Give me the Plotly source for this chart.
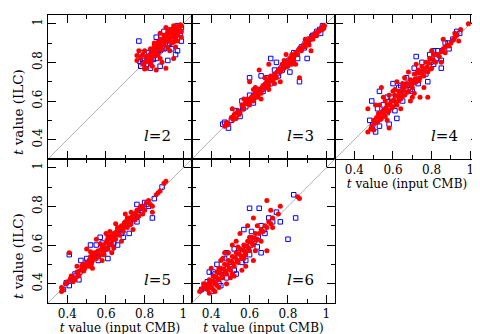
import plotly.graph_objects as go

# axis range shared by every panel
lo, hi = 0.3, 1.045
tick_vals = [0.4, 0.6, 0.8, 1.0]
tick_text = ["0.4", "0.6", "0.8", "1"]
minor_vals = [0.3, 0.5, 0.7, 0.9]

multipoles = [2, 3, 4, 5, 6]

# (t input CMB, t ILC)
l2_red = [(0.99,0.99),(0.98,0.97),(0.97,0.98),(0.96,0.95),(0.95,0.96),(0.94,0.93),(0.93,0.95),(0.92,0.91),
          (0.91,0.93),(0.90,0.89),(0.89,0.91),(0.88,0.87),(0.87,0.89),(0.86,0.85),(0.85,0.87),(0.84,0.83),
          (0.83,0.84),(0.82,0.81),(0.81,0.83),(0.80,0.80),(0.97,0.94),(0.95,0.99),(0.93,0.97),(0.99,0.96),
          (0.96,0.92),(0.92,0.96),(0.90,0.94),(0.94,0.90),(0.88,0.92),(0.87,0.84),(0.85,0.89),(0.83,0.87),
          (0.79,0.84),(0.77,0.86),(0.76,0.81),(0.79,0.79),(0.81,0.77),(0.84,0.78),(0.86,0.76),(0.91,0.77),
          (0.89,0.80),(0.93,0.86),(0.96,0.88),(0.97,0.91),(0.95,0.82),(0.85,0.90),(0.80,0.86),(0.99,0.93),
          (0.91,0.98),(0.88,0.95),
          (0.985,0.995),(0.975,0.985),(0.965,0.965),(0.955,0.975),(0.945,0.945),(0.935,0.955),(0.925,0.925),
          (0.915,0.945),(0.905,0.905),(0.895,0.915),(0.885,0.895),(0.875,0.875),(0.865,0.885),(0.855,0.86),
          (0.845,0.85),(0.835,0.815),(0.96,0.985),(0.95,0.935),(0.94,0.965),(0.93,0.915),(0.98,0.99),
          (0.97,0.955),(0.90,0.925),(0.89,0.865),(0.87,0.905),(0.86,0.835),(0.84,0.865),(0.82,0.835),
          (0.81,0.805),(0.78,0.825),(0.83,0.795),(0.88,0.82),(0.92,0.875),(0.95,0.905),(0.80,0.765),
          (0.76,0.835)]
l2_blue = [(0.77,0.91),(0.78,0.78),(0.92,0.81),(0.97,0.86),(0.80,0.82),(0.83,0.80),(0.86,0.82),(0.88,0.86),
           (0.90,0.87),(0.92,0.89),(0.94,0.92),(0.96,0.94),(0.98,0.96),(0.97,0.99),(0.95,0.97),(0.93,0.93),
           (0.91,0.91),(0.89,0.88),(0.87,0.86),(0.85,0.84),(0.82,0.85),(0.79,0.81),(0.81,0.79),(0.84,0.86),
           (0.94,0.87),(0.99,0.91),(0.96,0.84),(0.88,0.78),(0.83,0.77),(0.90,0.96),(0.86,0.93),(0.78,0.85),
           (0.99,0.98),(0.93,0.90),
           (0.975,0.975),(0.955,0.955),(0.935,0.945),(0.915,0.925),(0.895,0.905),(0.875,0.885),(0.855,0.875),
           (0.835,0.855),(0.865,0.845),(0.905,0.875),(0.945,0.915),(0.985,0.945),(0.815,0.825),(0.795,0.795),
           (0.775,0.805),(0.845,0.815),(0.925,0.965),(0.885,0.935)]

l3_red = [(0.47,0.47),(0.48,0.49),(0.49,0.48),(0.52,0.53),(0.53,0.51),(0.54,0.55),(0.55,0.54),(0.56,0.58),
          (0.57,0.56),(0.58,0.59),(0.59,0.61),(0.60,0.58),(0.61,0.62),(0.62,0.60),(0.63,0.64),(0.64,0.62),
          (0.65,0.66),(0.66,0.64),(0.67,0.68),(0.68,0.67),(0.69,0.70),(0.70,0.68),(0.71,0.73),(0.72,0.71),
          (0.73,0.74),(0.74,0.72),(0.75,0.76),(0.76,0.75),(0.77,0.79),(0.78,0.77),(0.79,0.80),(0.80,0.78),
          (0.81,0.82),(0.82,0.84),(0.83,0.81),(0.84,0.85),(0.85,0.84),(0.86,0.87),(0.87,0.86),(0.88,0.89),
          (0.89,0.88),(0.90,0.91),(0.91,0.89),(0.92,0.93),(0.93,0.92),(0.94,0.95),(0.95,0.94),(0.96,0.96),
          (0.97,0.97),(0.98,0.97),(0.99,0.99),(0.65,0.76),(0.60,0.70),(0.86,0.72),(0.92,0.86),(0.70,0.79),
          (0.73,0.69),(0.79,0.84),(0.76,0.70),(0.62,0.66),(0.57,0.61),(0.51,0.56),(0.66,0.61),(0.84,0.79),
          (0.89,0.92),
          (0.48,0.475),(0.505,0.515),(0.515,0.505),(0.535,0.54),(0.545,0.53),(0.565,0.57),(0.575,0.585),
          (0.595,0.59),(0.605,0.60),(0.615,0.625),(0.625,0.615),(0.635,0.645),(0.645,0.63),(0.655,0.66),
          (0.665,0.67),(0.675,0.665),(0.685,0.69),(0.695,0.69),(0.705,0.72),(0.715,0.705),(0.725,0.73),
          (0.735,0.725),(0.745,0.75),(0.755,0.765),(0.765,0.76),(0.775,0.775),(0.785,0.79),(0.795,0.80),
          (0.805,0.805),(0.815,0.825),(0.825,0.83),(0.835,0.835),(0.845,0.85),(0.855,0.865),(0.865,0.865),
          (0.875,0.88),(0.885,0.885),(0.895,0.90),(0.905,0.905),(0.915,0.92),(0.925,0.925),(0.935,0.94),
          (0.945,0.945),(0.955,0.96),(0.965,0.965),(0.975,0.98),(0.985,0.99),(0.70,0.66),(0.78,0.81),
          (0.82,0.79),(0.68,0.72),(0.63,0.67)]
l3_blue = [(0.46,0.48),(0.49,0.46),(0.53,0.55),(0.55,0.52),(0.58,0.57),(0.60,0.63),(0.62,0.59),(0.64,0.66),
           (0.67,0.65),(0.69,0.72),(0.71,0.69),(0.73,0.76),(0.75,0.73),(0.77,0.76),(0.79,0.78),(0.81,0.80),
           (0.83,0.85),(0.85,0.82),(0.87,0.88),(0.89,0.90),(0.91,0.92),(0.93,0.94),(0.95,0.96),(0.97,0.95),
           (0.98,0.99),(0.71,0.82),(0.60,0.72),(0.86,0.70),(0.90,0.82),(0.66,0.73),(0.74,0.80),(0.56,0.60),
           (0.81,0.75),
           (0.505,0.50),(0.525,0.525),(0.545,0.545),(0.565,0.56),(0.585,0.59),(0.605,0.605),(0.625,0.63),
           (0.645,0.645),(0.665,0.66),(0.685,0.685),(0.705,0.705),(0.725,0.72),(0.745,0.745),(0.765,0.77),
           (0.785,0.785),(0.805,0.81),(0.825,0.82),(0.845,0.845),(0.865,0.87),(0.885,0.875),(0.905,0.91),
           (0.925,0.935),(0.945,0.94),(0.965,0.97),(0.985,0.98),(0.47,0.49)]

l4_red = [(0.47,0.44),(0.49,0.47),(0.50,0.50),(0.52,0.49),(0.53,0.53),(0.54,0.51),(0.55,0.55),(0.56,0.52),
          (0.57,0.58),(0.58,0.55),(0.58,0.46),(0.59,0.60),(0.60,0.57),(0.61,0.63),(0.62,0.58),(0.63,0.65),
          (0.64,0.61),(0.65,0.67),(0.66,0.63),(0.67,0.69),(0.68,0.65),(0.69,0.71),(0.70,0.67),(0.71,0.74),
          (0.72,0.70),(0.73,0.76),(0.74,0.72),(0.75,0.78),(0.76,0.73),(0.77,0.80),(0.78,0.75),(0.79,0.82),
          (0.80,0.77),(0.81,0.84),(0.82,0.80),(0.84,0.83),(0.86,0.87),(0.87,0.85),(0.88,0.89),(0.90,0.90),
          (0.92,0.93),(0.94,0.91),(0.95,0.97),(0.99,1.00),(0.86,0.92),(0.92,0.95),(0.54,0.67),(0.47,0.56),
          (0.74,0.62),(0.78,0.62),(0.55,0.62),(0.62,0.70),(0.68,0.75),(0.64,0.56),(0.51,0.58),(0.57,0.50),
          (0.70,0.62),(0.80,0.86),(0.76,0.67),(0.60,0.65),(0.66,0.72),(0.72,0.79),(0.50,0.45),(0.85,0.80),
          (0.63,0.60),
          (0.485,0.455),(0.505,0.485),(0.515,0.515),(0.525,0.535),(0.535,0.505),(0.545,0.545),(0.555,0.525),
          (0.565,0.565),(0.575,0.545),(0.585,0.585),(0.595,0.565),(0.605,0.605),(0.615,0.595),(0.625,0.625),
          (0.635,0.635),(0.645,0.625),(0.655,0.655),(0.665,0.675),(0.675,0.645),(0.685,0.685),(0.695,0.705),
          (0.705,0.695),(0.715,0.715),(0.725,0.745),(0.735,0.705),(0.745,0.745),(0.755,0.765),(0.765,0.755),
          (0.775,0.775),(0.785,0.795),(0.795,0.765),(0.805,0.815),(0.815,0.805),(0.83,0.84),(0.85,0.855),
          (0.87,0.88),(0.89,0.885),(0.91,0.915),(0.93,0.94),(0.56,0.60),(0.61,0.66),(0.65,0.69),(0.71,0.64),
          (0.69,0.60),(0.53,0.58),(0.58,0.63)]
l4_blue = [(0.51,0.44),(0.48,0.50),(0.53,0.47),(0.55,0.58),(0.57,0.54),(0.59,0.62),(0.61,0.55),(0.63,0.67),
           (0.65,0.60),(0.67,0.72),(0.69,0.66),(0.71,0.77),(0.73,0.69),(0.75,0.80),(0.77,0.74),(0.79,0.84),
           (0.81,0.79),(0.83,0.86),(0.85,0.77),(0.87,0.90),(0.89,0.87),(0.91,0.92),(0.93,0.96),(0.81,0.86),
           (0.53,0.65),(0.49,0.60),(0.60,0.69),(0.66,0.64),(0.85,0.81),(0.72,0.83),(0.58,0.48),(0.78,0.70),
           (0.62,0.51),
           (0.495,0.475),(0.515,0.50),(0.535,0.525),(0.555,0.55),(0.575,0.57),(0.595,0.58),(0.615,0.61),
           (0.635,0.62),(0.655,0.64),(0.675,0.68),(0.695,0.69),(0.715,0.70),(0.735,0.73),(0.755,0.75),
           (0.775,0.76),(0.795,0.80),(0.825,0.82),(0.855,0.86),(0.885,0.90),(0.945,0.95),(0.57,0.62),
           (0.64,0.68),(0.70,0.65),(0.52,0.56)]

l5_red = [(0.37,0.36),(0.37,0.38),(0.40,0.41),(0.42,0.44),(0.43,0.41),(0.44,0.42),(0.45,0.46),(0.46,0.44),
          (0.47,0.47),(0.48,0.50),(0.49,0.48),(0.50,0.51),(0.51,0.49),(0.52,0.54),(0.53,0.52),(0.54,0.56),
          (0.55,0.53),(0.56,0.57),(0.57,0.55),(0.58,0.59),(0.59,0.57),(0.60,0.61),(0.61,0.58),(0.62,0.63),
          (0.63,0.60),(0.64,0.66),(0.65,0.63),(0.66,0.68),(0.67,0.65),(0.68,0.70),(0.69,0.67),(0.70,0.72),
          (0.71,0.69),(0.72,0.74),(0.73,0.71),(0.74,0.76),(0.75,0.73),(0.76,0.78),(0.77,0.75),(0.78,0.80),
          (0.80,0.78),(0.82,0.83),(0.84,0.80),(0.86,0.86),(0.88,0.88),(0.90,0.92),(0.91,0.93),(0.84,0.77),
          (0.79,0.76),(0.41,0.56),(0.50,0.58),(0.55,0.63),(0.60,0.66),(0.65,0.71),(0.70,0.76),(0.58,0.52),
          (0.63,0.56),(0.68,0.62),(0.74,0.68),(0.53,0.48),(0.45,0.49),(0.73,0.77),(0.62,0.67),
          (0.375,0.37),(0.39,0.40),(0.415,0.425),(0.435,0.43),(0.455,0.45),(0.475,0.49),(0.485,0.465),
          (0.505,0.495),(0.515,0.525),(0.525,0.505),(0.535,0.545),(0.545,0.535),(0.555,0.565),(0.565,0.545),
          (0.575,0.575),(0.585,0.60),(0.595,0.585),(0.605,0.625),(0.615,0.605),(0.625,0.645),(0.635,0.625),
          (0.645,0.64),(0.655,0.67),(0.665,0.655),(0.675,0.69),(0.685,0.68),(0.695,0.715),(0.705,0.695),
          (0.715,0.725),(0.725,0.705),(0.735,0.745),(0.745,0.735),(0.755,0.765),(0.765,0.745),(0.775,0.79),
          (0.79,0.80),(0.81,0.82),(0.83,0.81),(0.87,0.87),(0.57,0.605),(0.61,0.645),(0.66,0.69),(0.71,0.74),
          (0.52,0.565),(0.59,0.55),(0.64,0.585)]
l5_blue = [(0.38,0.37),(0.41,0.39),(0.44,0.45),(0.46,0.42),(0.48,0.48),(0.50,0.53),(0.52,0.50),(0.54,0.55),
           (0.56,0.52),(0.58,0.61),(0.60,0.58),(0.62,0.64),(0.64,0.61),(0.66,0.66),(0.68,0.66),(0.70,0.70),
           (0.72,0.72),(0.74,0.74),(0.76,0.72),(0.78,0.78),(0.80,0.82),(0.82,0.80),(0.85,0.84),(0.84,0.74),
           (0.89,0.90),(0.41,0.55),(0.52,0.60),(0.57,0.64),(0.66,0.60),(0.72,0.66),(0.61,0.53),(0.76,0.81),
           (0.47,0.52),
           (0.395,0.405),(0.425,0.42),(0.445,0.44),(0.465,0.46),(0.485,0.49),(0.505,0.51),(0.525,0.52),
           (0.545,0.55),(0.565,0.56),(0.585,0.585),(0.605,0.60),(0.625,0.625),(0.645,0.65),(0.665,0.67),
           (0.685,0.69),(0.705,0.71),(0.725,0.73),(0.745,0.75),(0.765,0.765),(0.785,0.79),(0.81,0.81),
           (0.55,0.60),(0.63,0.58),(0.69,0.64)]

l6_red = [(0.34,0.36),(0.37,0.39),(0.38,0.37),(0.39,0.42),(0.40,0.38),(0.41,0.44),(0.42,0.40),(0.43,0.46),
          (0.44,0.42),(0.45,0.48),(0.46,0.43),(0.47,0.50),(0.48,0.45),(0.49,0.52),(0.50,0.47),(0.51,0.54),
          (0.52,0.49),(0.53,0.56),(0.54,0.51),(0.55,0.58),(0.56,0.53),(0.57,0.60),(0.58,0.55),(0.59,0.62),
          (0.60,0.57),(0.61,0.64),(0.62,0.60),(0.63,0.66),(0.64,0.63),(0.66,0.68),(0.68,0.70),(0.70,0.72),
          (0.72,0.74),(0.75,0.76),(0.69,0.83),(0.85,0.85),(0.86,0.84),(0.69,0.57),(0.59,0.70),(0.47,0.56),
          (0.44,0.38),(0.52,0.44),(0.56,0.47),(0.40,0.48),(0.51,0.60),(0.62,0.52),(0.66,0.62),(0.72,0.69),
          (0.76,0.80),(0.55,0.66),(0.48,0.40),(0.58,0.49),(0.45,0.52),(0.62,0.74),(0.71,0.78),(0.42,0.36),
          (0.53,0.62),(0.36,0.40),(0.64,0.70),(0.50,0.43),
          (0.355,0.375),(0.375,0.385),(0.385,0.40),(0.395,0.395),(0.405,0.415),(0.415,0.41),(0.425,0.435),
          (0.435,0.425),(0.445,0.455),(0.455,0.445),(0.465,0.475),(0.475,0.465),(0.485,0.495),(0.495,0.48),
          (0.505,0.515),(0.515,0.505),(0.525,0.535),(0.535,0.52),(0.545,0.555),(0.555,0.545),(0.565,0.575),
          (0.575,0.565),(0.585,0.595),(0.595,0.585),(0.605,0.615),(0.615,0.605),(0.625,0.635),(0.635,0.625),
          (0.65,0.66),(0.67,0.67),(0.69,0.69),(0.71,0.71),(0.43,0.39),(0.46,0.53),(0.49,0.56),(0.54,0.59),
          (0.57,0.53),(0.60,0.64),(0.63,0.57),(0.51,0.45),(0.41,0.37),(0.44,0.48),(0.39,0.35)]
l6_blue = [(0.35,0.37),(0.38,0.41),(0.40,0.36),(0.42,0.45),(0.44,0.40),(0.46,0.47),(0.48,0.43),(0.50,0.51),
           (0.52,0.47),(0.54,0.56),(0.56,0.51),(0.58,0.59),(0.60,0.55),(0.62,0.63),(0.64,0.59),(0.66,0.70),
           (0.68,0.66),(0.70,0.74),(0.74,0.77),(0.83,0.86),(0.65,0.79),(0.80,0.63),(0.84,0.74),(0.60,0.79),
           (0.57,0.68),(0.48,0.56),(0.43,0.50),(0.66,0.56),(0.72,0.72),(0.53,0.45),(0.76,0.72),(0.39,0.46),
           (0.61,0.67),
           (0.365,0.38),(0.385,0.39),(0.405,0.40),(0.425,0.42),(0.445,0.44),(0.465,0.465),(0.485,0.48),
           (0.505,0.50),(0.525,0.52),(0.545,0.54),(0.565,0.56),(0.585,0.58),(0.605,0.60),(0.625,0.62),
           (0.645,0.645),(0.675,0.68),(0.47,0.53),(0.52,0.58),(0.58,0.52),(0.45,0.39),(0.41,0.46)]

red_sets = [l2_red, l3_red, l4_red, l5_red, l6_red]
blue_sets = [l2_blue, l3_blue, l4_blue, l5_blue, l6_blue]

W, H = 480, 334
FONT = "DejaVu Serif"
# panel boxes in pixels: (left, right) and (top, bottom)
cols = [(40, 184), (184, 327), (327, 471)]
rows = [(7, 151), (151, 295)]
cells = [(0, 0), (1, 0), (2, 0), (0, 1), (1, 1)]
show_xlab = [False, False, True, True, True]
show_ylab = [True, False, False, True, False]

fig = go.Figure()
layout = {}
for i, ell in enumerate(multipoles):
    n = "" if i == 0 else str(i + 1)
    c, r = cells[i]
    x0, x1 = cols[c]
    y0, y1 = rows[r]
    xa = "x" + n
    ya = "y" + n

    # diagonal t_ILC = t_input
    fig.add_trace(go.Scatter(x=[lo, hi], y=[lo, hi], mode="lines",
                             line=dict(color="#a0a0a0", width=0.8),
                             xaxis=xa, yaxis=ya, showlegend=False, hoverinfo="skip"))
    bx, by = zip(*blue_sets[i])
    fig.add_trace(go.Scatter(x=bx, y=by, mode="markers",
                             marker=dict(symbol="square-open", size=4.5, color="#0000ff",
                                         line=dict(width=1, color="#0000ff")),
                             xaxis=xa, yaxis=ya, showlegend=False))
    rx, ry = zip(*red_sets[i])
    fig.add_trace(go.Scatter(x=rx, y=ry, mode="markers",
                             marker=dict(symbol="circle", size=5, color="#ff0000"),
                             xaxis=xa, yaxis=ya, showlegend=False))

    common = dict(range=[lo, hi], showline=True, linecolor="black", linewidth=1,
                  mirror="ticks", ticks="inside", ticklen=8, tickwidth=1, tickcolor="black",
                  tickvals=tick_vals, ticktext=tick_text, showgrid=False, zeroline=False,
                  minor=dict(tickvals=minor_vals, ticks="inside", ticklen=4, tickwidth=1,
                             tickcolor="black", showgrid=False),
                  tickfont=dict(family=FONT, size=12, color="black"))
    xax = dict(common, domain=[x0 / W, x1 / W], anchor=ya, showticklabels=show_xlab[i])
    yax = dict(common, domain=[1 - y1 / H, 1 - y0 / H], anchor=xa, showticklabels=show_ylab[i],
               tickangle=-90)
    if show_xlab[i]:
        xax["title"] = dict(text="<i>t</i> value (input CMB)", standoff=3,
                            font=dict(family=FONT, size=12, color="black"))
    if show_ylab[i]:
        # y title sits a bit below the panel centre in the original
        fig.add_annotation(x=10 / W, y=1 - (y0 + 97) / H, xref="paper", yref="paper",
                           text="<i>t</i> value (ILC)", textangle=-90, showarrow=False,
                           xanchor="center", yanchor="middle",
                           font=dict(family=FONT, size=13.5, color="black"))
    layout["xaxis" + n] = xax
    layout["yaxis" + n] = yax

    fig.add_annotation(x=0.945, y=0.42, xref=xa, yref=ya, xanchor="right", yanchor="middle",
                       text="<i>l</i>=" + str(ell), showarrow=False,
                       font=dict(family=FONT, size=15, color="black"))

fig.update_layout(**layout)
fig.update_layout(width=W, height=H, margin=dict(l=0, r=0, t=0, b=0),
                  paper_bgcolor="white", plot_bgcolor="white", showlegend=False)

fig.write_html("out.html")
